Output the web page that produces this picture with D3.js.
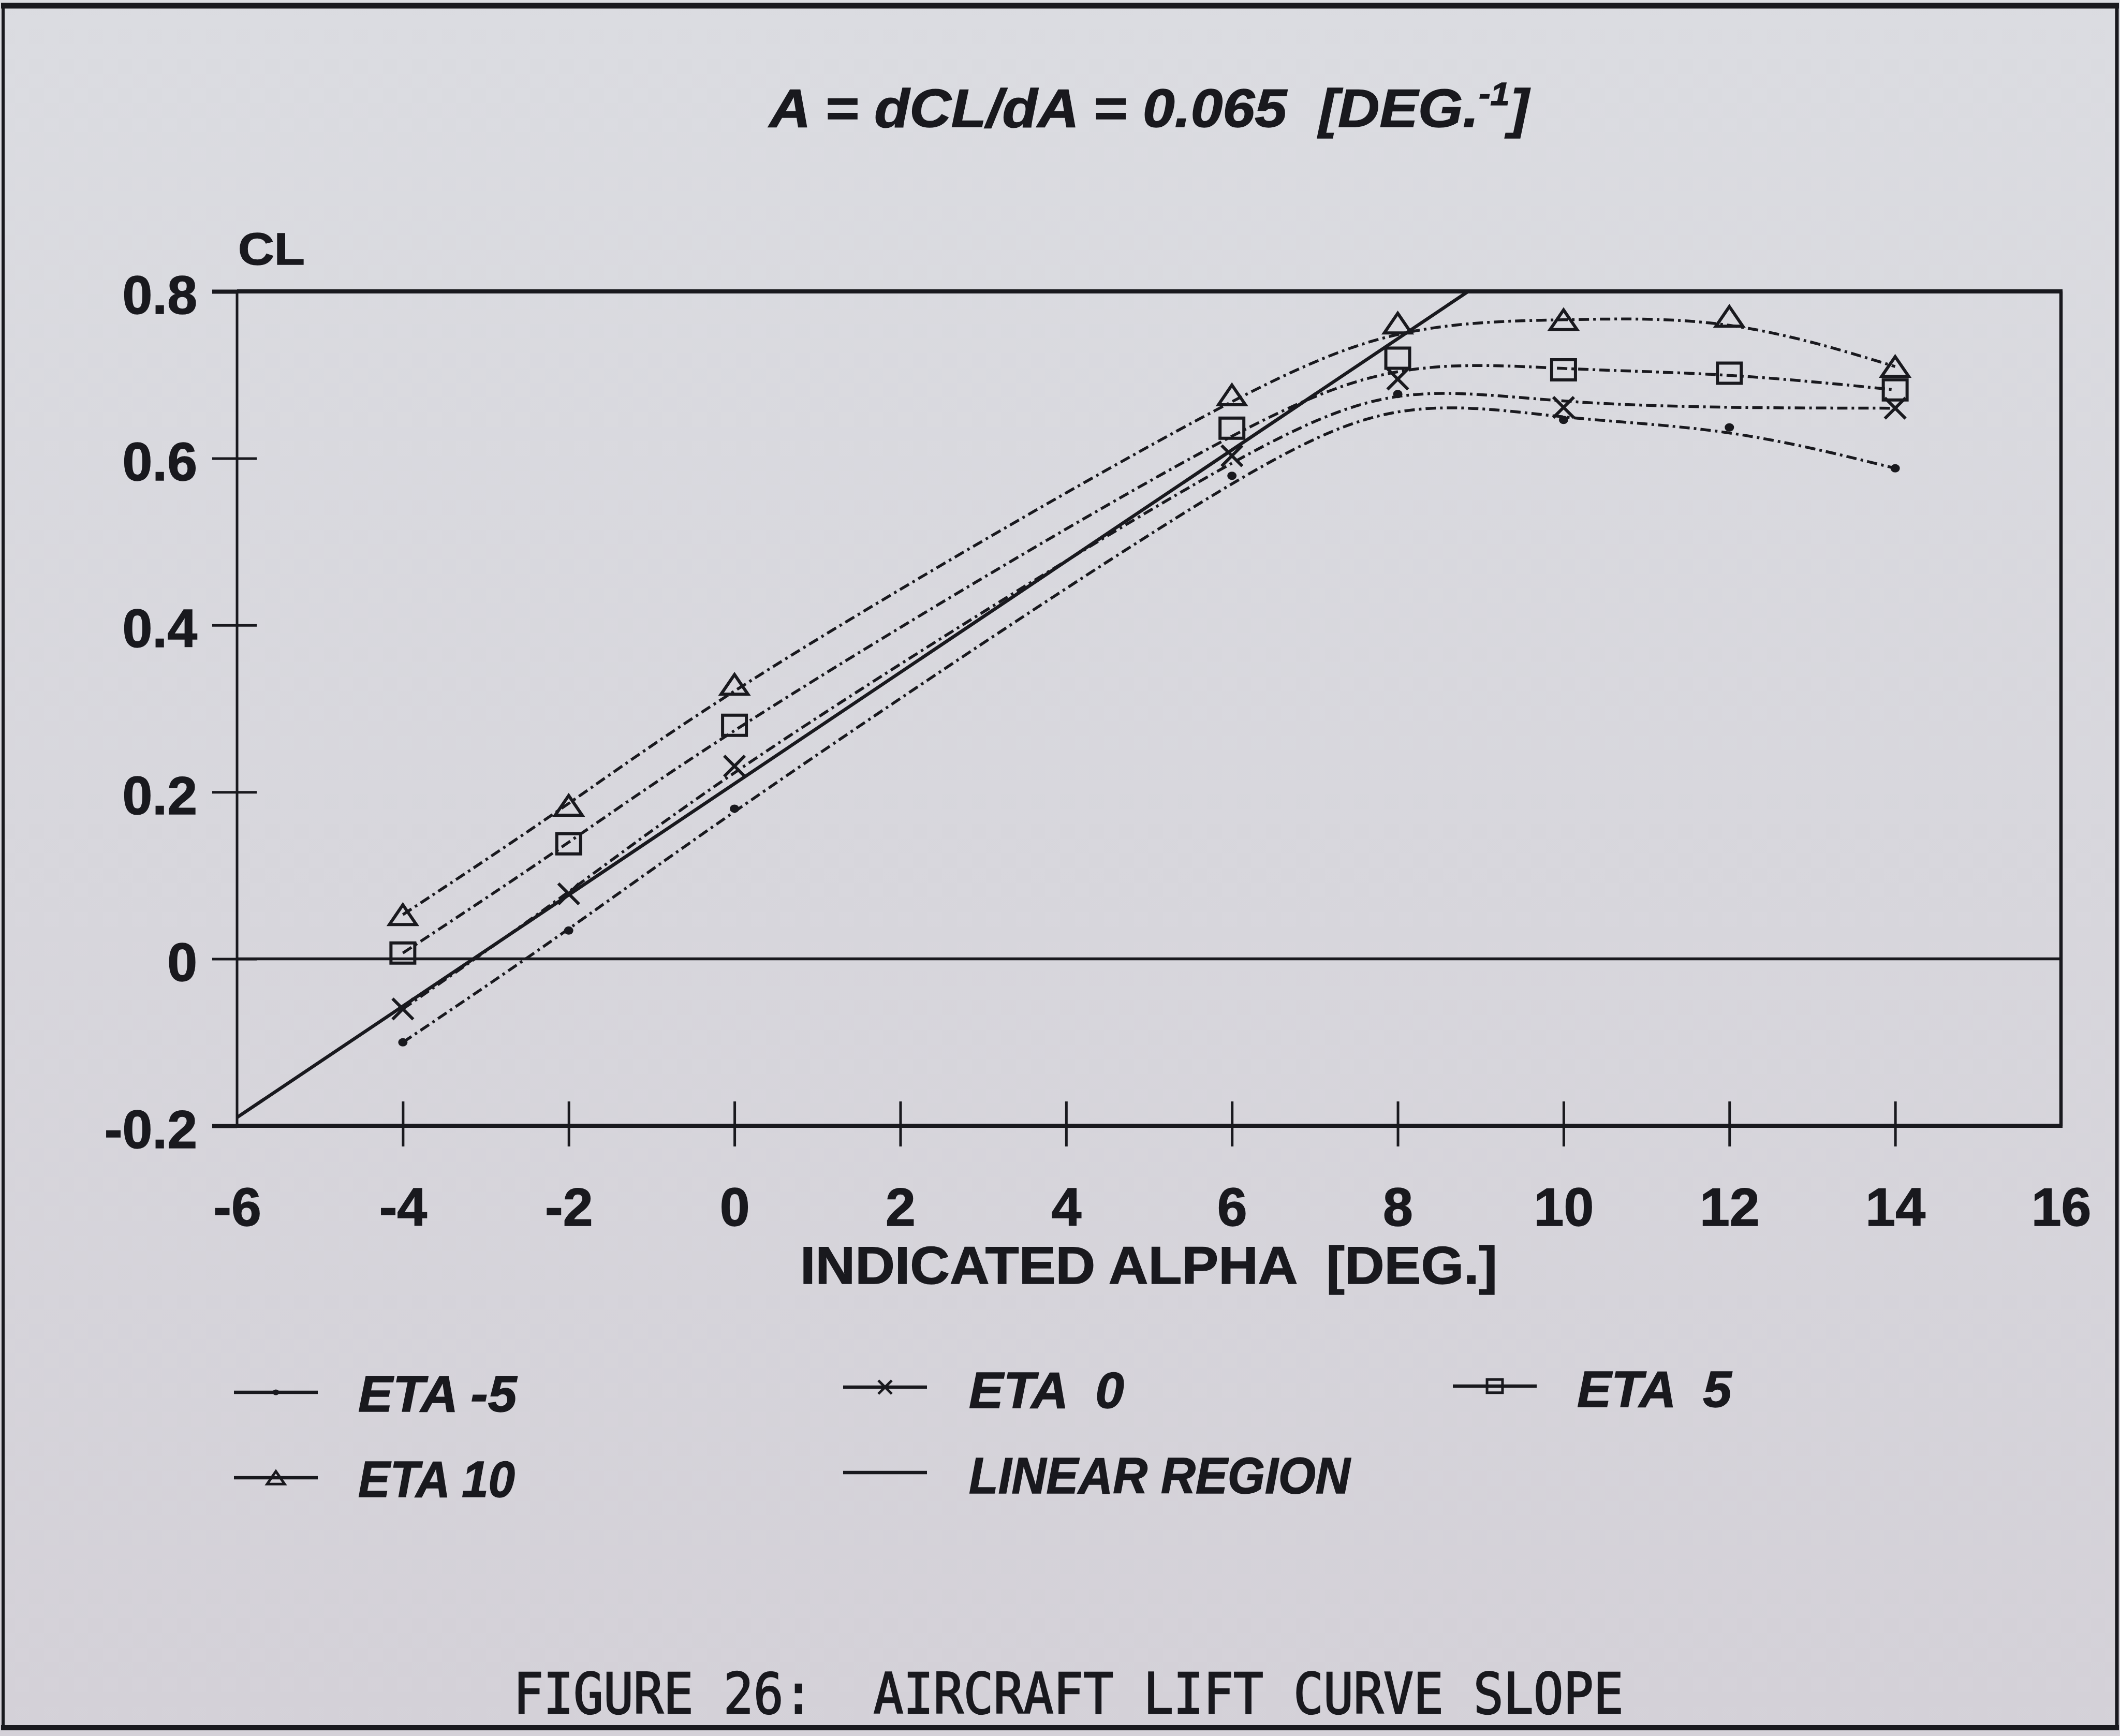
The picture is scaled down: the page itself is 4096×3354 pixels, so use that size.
<!DOCTYPE html>
<html><head><meta charset="utf-8">
<script src="https://cdn.jsdelivr.net/npm/d3@7"></script>
<style>html,body{margin:0;padding:0;background:#d8d8dd;overflow:hidden}</style>
</head><body><svg id="c" width="4096" height="3354"></svg>
<script>
// ---------------- data ----------------
const alphaPts = [-4, -2, 0, 6, 8, 10, 12, 14];
const etaM5  = [-0.100, 0.034, 0.180, 0.579, 0.677, 0.646, 0.637, 0.588];
const eta0   = [-0.060, 0.078, 0.231, 0.603, 0.695, 0.661, null, 0.660];
const eta5   = [0.007, 0.138, 0.280, 0.636, 0.720, 0.706, 0.702, 0.682];
const eta10  = [0.053, 0.184, 0.329, 0.676, 0.762, 0.766, 0.770, 0.710];
const linearAlpha = [-6, 8.85];
const linearCL    = [-0.19, 0.80];
const xTickValues = [-6, -4, -2, 0, 2, 4, 6, 8, 10, 12, 14, 16];
const yTickValues = [-0.2, 0, 0.2, 0.4, 0.6, 0.8];
const seriesNames = ["ETA -5", "ETA  0", "ETA  5", "ETA 10"];
const linearName = "LINEAR REGION";
const titleMain = "A = dCL/dA = 0.065  [DEG.";
const titleSup = "-1";
const titleEnd = "]";
const yLabel = "CL";
const xLabel = "INDICATED ALPHA  [DEG.]";
const caption = "FIGURE 26:  AIRCRAFT LIFT CURVE SLOPE";

// ---------------- setup ----------------
const INK = "#19191e";
const svg = d3.select("#c");
const defs = svg.append("defs");
const grad = defs.append("linearGradient").attr("id", "bg").attr("x1", 0).attr("y1", 0).attr("x2", 0).attr("y2", 1);
grad.append("stop").attr("offset", "0%").attr("stop-color", "#dbdce1");
grad.append("stop").attr("offset", "100%").attr("stop-color", "#d4d1d8");
svg.append("rect").attr("width", 4096).attr("height", 3354).attr("fill", "url(#bg)");

const x = d3.scaleLinear().domain([-6, 16]).range([458, 3982]);
const y = d3.scaleLinear().domain([-0.2, 0.8]).range([2175, 563]);
const X0 = x(-6), X1 = x(16), Y0 = y(0.8), Y1 = y(-0.2);

function fitX(sel, left, right) {
  const bb = sel.node().getBBox();
  const k = (right - left) / bb.width;
  sel.attr("transform", `translate(${left},0) scale(${k},1) translate(${-bb.x},0)`);
}

// outer page border
const border = svg.append("g").attr("stroke", INK).attr("fill", "none");
border.append("line").attr("x1", 2).attr("x2", 4094).attr("y1", 11).attr("y2", 11).attr("stroke-width", 11);
border.append("line").attr("x1", 6).attr("x2", 6).attr("y1", 6).attr("y2", 3342).attr("stroke-width", 6);
border.append("line").attr("x1", 4090).attr("x2", 4090).attr("y1", 6).attr("y2", 3342).attr("stroke-width", 7);
border.append("line").attr("x1", 2).attr("x2", 4094).attr("y1", 3338).attr("y2", 3338).attr("stroke-width", 10);

// plot frame
const frame = svg.append("g").attr("stroke", INK).attr("fill", "none");
frame.append("line").attr("x1", X0).attr("x2", X1 + 3).attr("y1", Y0).attr("y2", Y0).attr("stroke-width", 8);
frame.append("line").attr("x1", X0).attr("x2", X1 + 3).attr("y1", Y1).attr("y2", Y1).attr("stroke-width", 8);
frame.append("line").attr("x1", X0).attr("x2", X0).attr("y1", Y0).attr("y2", Y1).attr("stroke-width", 5);
frame.append("line").attr("x1", X1).attr("x2", X1).attr("y1", Y0).attr("y2", Y1).attr("stroke-width", 6.5);

// axes
const tickFont = "'Liberation Sans', Arial, Helvetica, sans-serif";
const gx = svg.append("g").attr("transform", `translate(0,${Y1})`)
  .call(d3.axisBottom(x).tickValues(xTickValues).tickSize(40).tickFormat(d => String(d)));
gx.select(".domain").remove();
gx.selectAll(".tick line").attr("y1", -47).attr("y2", 40).attr("stroke", INK).attr("stroke-width", 5)
  .filter(d => d === -6 || d === 16).remove();
gx.selectAll(".tick text").attr("y", 193).attr("dy", 0).attr("fill", INK)
  .attr("font-family", tickFont).attr("font-weight", "bold").attr("font-size", 104)
  .attr("stroke", INK).attr("stroke-width", 1.5);

const gy = svg.append("g").attr("transform", `translate(${X0},0)`)
  .call(d3.axisLeft(y).tickValues(yTickValues).tickSize(48)
    .tickFormat(d => Math.abs(d) < 1e-9 ? "0" : d.toFixed(1)));
gy.select(".domain").remove();
gy.selectAll(".tick line").attr("x1", 38).attr("x2", -48).attr("stroke", INK).attr("stroke-width", 5)
  .filter(d => Math.abs(d - 0.8) < 1e-9 || Math.abs(d + 0.2) < 1e-9).attr("x1", 0).attr("stroke-width", 8);
gy.selectAll(".tick text").attr("x", -77).attr("dy", 0).attr("y", 42).attr("fill", INK)
  .attr("text-anchor", "end")
  .attr("font-family", tickFont).attr("font-weight", "bold").attr("font-size", 104)
  .attr("stroke", INK).attr("stroke-width", 1.5);

// zero line
svg.append("line").attr("x1", X0).attr("x2", X1).attr("y1", y(0)).attr("y2", y(0))
  .attr("stroke", INK).attr("stroke-width", 5.5);

// clip
defs.append("clipPath").attr("id", "plotclip").append("rect")
  .attr("x", X0).attr("y", Y0).attr("width", X1 - X0).attr("height", Y1 - Y0);
const plot = svg.append("g").attr("clip-path", "url(#plotclip)");

// linear region
const straight = d3.line().x(d => x(d[0])).y(d => y(d[1]));
plot.append("path").attr("d", straight(d3.zip(linearAlpha, linearCL)))
  .attr("fill", "none").attr("stroke", INK).attr("stroke-width", 6.5);

// ETA curves (B-spline smoothing)
const smooth = d3.line().x(d => x(d[0])).y(d => y(d[1])).curve(d3.curveBasis);
const seriesVals = [etaM5, eta0, eta5, eta10];
const markerTypes = ["dot", "x", "square", "triangle"];
seriesVals.forEach(vals => {
  const pts = d3.zip(alphaPts, vals).filter(p => p[1] !== null);
  plot.append("path").attr("d", smooth(pts)).attr("fill", "none")
    .attr("stroke", INK).attr("stroke-width", 5.5).attr("stroke-dasharray", "20 8 5 8");
});

function markerPath(type, s) {
  if (type === "triangle") { const w = 52 * s, h = 38 * s; return `M0,${-h/2}L${w/2},${h/2}L${-w/2},${h/2}Z`; }
  if (type === "square") { const w = 46 * s, h = 39 * s; return `M${-w/2},${-h/2}H${w/2}V${h/2}H${-w/2}Z`; }
  if (type === "x") { const w = 20 * s, h = 20 * s; return `M${-w},${-h}L${w},${h}M${w},${-h}L${-w},${h}`; }
  return null;
}
function drawMarker(g, type, cx, cy, s, sw) {
  if (type === "dot") {
    g.append("ellipse").attr("cx", cx).attr("cy", cy).attr("rx", 9 * s).attr("ry", 8 * s).attr("fill", INK);
  } else {
    g.append("path").attr("d", markerPath(type, s)).attr("transform", `translate(${cx},${cy})`)
      .attr("fill", "none").attr("stroke", INK).attr("stroke-width", sw).attr("stroke-linejoin", "miter");
  }
}
const mk = svg.append("g");
seriesVals.forEach((vals, i) => {
  d3.zip(alphaPts, vals).filter(p => p[1] !== null)
    .forEach(p => drawMarker(mk, markerTypes[i], x(p[0]), y(p[1]), 1, 6));
});

// ---------------- texts ----------------
const biFamily = "'Liberation Sans', Arial, sans-serif";
// title
const title = svg.append("text").attr("y", 245).attr("fill", INK)
  .attr("font-family", biFamily).attr("font-weight", "bold").attr("font-style", "italic")
  .attr("font-size", 103).style("white-space", "pre").attr("stroke", INK).attr("stroke-width", 1.5);
title.append("tspan").text(titleMain);
title.append("tspan").attr("dy", -42).attr("font-size", 62).text(titleSup);
title.append("tspan").attr("dy", 42).text(titleEnd);
fitX(title, 1483, 2958);

// CL
const cl = svg.append("text").attr("y", 511).attr("fill", INK).attr("font-family", tickFont)
  .attr("font-weight", "bold").attr("font-size", 88).attr("stroke", INK).attr("stroke-width", 1.5).text(yLabel);
fitX(cl, 460, 589);

// x axis title
const xt = svg.append("text").attr("y", 2480).attr("fill", INK).attr("font-family", tickFont)
  .attr("font-weight", "bold").attr("font-size", 102).style("white-space", "pre")
  .attr("stroke", INK).attr("stroke-width", 1.5).text(xLabel);
fitX(xt, 1546, 2893);

// legend
const legendItems = [
  { name: seriesNames[0], marker: "dot",      lx: 452,  ly: 2690, tx: 692,  tr: 1000, ty: 2727 },
  { name: seriesNames[1], marker: "x",        lx: 1629, ly: 2680, tx: 1872, tr: 2172, ty: 2720 },
  { name: seriesNames[2], marker: "square",   lx: 2807, ly: 2678, tx: 3047, tr: 3347, ty: 2718 },
  { name: seriesNames[3], marker: "triangle", lx: 452,  ly: 2855, tx: 692,  tr: 995,  ty: 2892 },
  { name: linearName,     marker: null,       lx: 1629, ly: 2845, tx: 1872, tr: 2611, ty: 2885 }
];
const lg = svg.append("g");
legendItems.forEach(it => {
  lg.append("line").attr("x1", it.lx).attr("x2", it.lx + 162).attr("y1", it.ly).attr("y2", it.ly)
    .attr("stroke", INK).attr("stroke-width", 6.5);
  if (it.marker) drawMarker(lg, it.marker, it.lx + 81, it.ly, it.marker === "dot" ? 0.7 : 0.65, 5);
  const t = lg.append("text").attr("y", it.ty).attr("fill", INK)
    .attr("font-family", biFamily).attr("font-weight", "bold").attr("font-style", "italic")
    .attr("font-size", 98).style("white-space", "pre").attr("stroke", INK).attr("stroke-width", 1.5).text(it.name);
  fitX(t, it.tx, it.tr);
});

// caption
const cap = svg.append("text").attr("y", 3310).attr("fill", INK)
  .attr("font-family", "'DejaVu Sans Mono', 'Liberation Mono', monospace")
  .attr("font-size", 108).attr("stroke", INK).attr("stroke-width", 2.5)
  .style("white-space", "pre").text(caption);
fitX(cap, 992, 3137);
</script></body></html>
